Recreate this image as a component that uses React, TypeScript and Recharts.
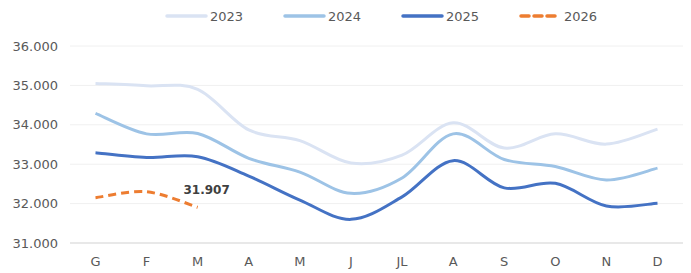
import React from 'react';
import { LineChart, Line, XAxis, YAxis, CartesianGrid } from 'recharts';

const months = ['G', 'F', 'M', 'A', 'M', 'J', 'JL', 'A', 'S', 'O', 'N', 'D'];
const y2023 = [35050, 34990, 34900, 33870, 33600, 33030, 33230, 34050, 33410, 33770, 33510, 33890];
const y2024 = [34290, 33770, 33780, 33150, 32800, 32260, 32650, 33770, 33120, 32940, 32600, 32900];
const y2025 = [33290, 33170, 33190, 32700, 32090, 31600, 32170, 33090, 32400, 32515, 31940, 32010];
const y2026 = [32150, 32300, 31907];
const yTicks = [31000, 32000, 33000, 34000, 35000, 36000];

const data = months.map((m, i) => ({
  m: `${m}-${i}`,
  a: y2023[i],
  b: y2024[i],
  c: y2025[i],
  d: i < y2026.length ? y2026[i] : null,
}));

const series = [
  { key: 'a', name: '2023', color: '#dae3f3', dash: undefined },
  { key: 'b', name: '2024', color: '#9dc3e6', dash: undefined },
  { key: 'c', name: '2025', color: '#4472c4', dash: undefined },
  { key: 'd', name: '2026', color: '#ed7d31', dash: '8 5' },
];

const fmt = (v: number) => String(v).replace(/\B(?=(\d{3})+(?!\d))/g, '.');
const FONT = '"DejaVu Sans", sans-serif';

// Excel-like smoothed line (catmull-rom through each point)
const smoothCurve = (context: any) => {
  let pts: number[][] = [];
  return {
    areaStart() {},
    areaEnd() {},
    lineStart() { pts = []; },
    point(x: number, y: number) { pts.push([+x, +y]); },
    lineEnd() {
      if (!pts.length) return;
      context.moveTo(pts[0][0], pts[0][1]);
      const t = 1 / 6;
      for (let i = 0; i < pts.length - 1; i++) {
        const p0 = pts[i - 1] || pts[i];
        const p1 = pts[i];
        const p2 = pts[i + 1];
        const p3 = pts[i + 2] || p2;
        context.bezierCurveTo(
          p1[0] + (p2[0] - p0[0]) * t, p1[1] + (p2[1] - p0[1]) * t,
          p2[0] - (p3[0] - p1[0]) * t, p2[1] - (p3[1] - p1[1]) * t,
          p2[0], p2[1]
        );
      }
    },
  };
};

const LastLabel = (props: any) => {
  const { x, y, index, value } = props;
  if (index !== y2026.length - 1) return null;
  return (
    <text x={x + 9} y={y - 17} textAnchor="middle" dominantBaseline="central"
      fontFamily={FONT} fontSize={12} fontWeight="bold" fill="#404040">
      {fmt(value)}
    </text>
  );
};

export default function App() {
  return (
    <div style={{ position: 'fixed', left: 0, top: 0, width: 691, height: 273, background: '#fff' }}>
      <div style={{ position: 'absolute', top: 7, left: 0, width: 691, height: 18 }}>
        {series.map((s, i) => (
          <div key={s.key} style={{ position: 'absolute', left: 165 + i * 118, top: 0, display: 'flex', alignItems: 'center', height: 18 }}>
            <svg width={43} height={6}>
              <line x1={2} y1={3} x2={41} y2={3} stroke={s.color} strokeWidth={3.5} strokeDasharray={s.dash} strokeLinecap="round" />
            </svg>
            <span style={{ marginLeft: 2, fontFamily: FONT, fontSize: 13, color: '#595959' }}>{s.name}</span>
          </div>
        ))}
      </div>
      <LineChart width={691} height={273} data={data} margin={{ top: 46, right: 8, left: 0, bottom: 0 }}>
        <CartesianGrid vertical={false} stroke="#f0f0f0" />
        <XAxis dataKey="m" tickFormatter={(v: string) => v.split('-')[0]} axisLine={{ stroke: '#d9d9d9' }}
          tickLine={false} height={30} tickMargin={8} padding={{ left: 25.5, right: 25.5 }}
          tick={{ fontFamily: FONT, fontSize: 13, fill: '#595959' }} interval={0} />
        <YAxis domain={[31000, 36000]} ticks={yTicks} tickFormatter={fmt} width={70}
          axisLine={false} tickLine={false} tickMargin={6}
          tick={{ fontFamily: FONT, fontSize: 13, fill: '#595959' }} />
        {series.map((s) => (
          <Line key={s.key} dataKey={s.key} name={s.name} type={smoothCurve as any} stroke={s.color}
            strokeWidth={3} strokeDasharray={s.dash} dot={false} activeDot={false}
            isAnimationActive={false} connectNulls={false}
            label={s.key === 'd' ? <LastLabel /> : undefined} />
        ))}
      </LineChart>
    </div>
  );
}
